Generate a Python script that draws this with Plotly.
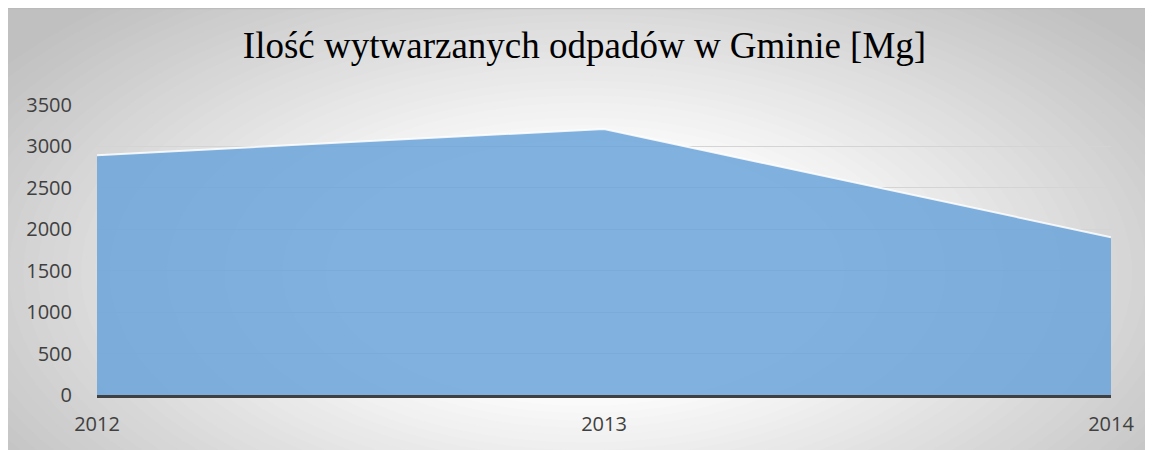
import plotly.graph_objects as go

# ---- data ----
years = [2012, 2013, 2014]
year_labels = ["2012", "2013", "2014"]
waste_mg = [2895, 3210, 1905]
y_ticks = [0, 500, 1000, 1500, 2000, 2500, 3000, 3500]
title_text = "Ilość wytwarzanych odpadów w Gminie [Mg]"

# ---- layout geometry (figure pixels) ----
W, H = 1153, 450
L, R = 89, 1103          # plot area left/right
T, B = 97, 387.5         # plot area top/bottom


def px_x(p):
    return (p - L) / (R - L)


def px_y(p):
    return (B - p) / (B - T)


fig = go.Figure()

fig.add_trace(go.Scatter(
    x=years, y=waste_mg,
    mode="lines",
    fill="tozeroy",
    fillcolor="rgba(108,164,218,0.86)",
    line=dict(color="rgba(255,255,255,0.85)", width=2),
    hoverinfo="skip",
    showlegend=False,
))

shapes = []
# radial gradient made of concentric ellipses
cx, cy = 577, 265
rx, ry = 720, 370
n = 50
for i in range(n):
    f = 1 - i / n
    t = max(0.0, (f - 0.3) / 0.7)
    v = int(round(255 - (255 - 192) * t))
    shapes.append(dict(type="circle", xref="paper", yref="paper",
                       x0=px_x(cx - rx * f), x1=px_x(cx + rx * f),
                       y0=px_y(cy + ry * f), y1=px_y(cy - ry * f),
                       fillcolor=f"rgb({v},{v},{v})", line=dict(width=0),
                       layer="below"))
# frame top edge
shapes.append(dict(type="line", xref="paper", yref="paper",
                   x0=px_x(0), x1=px_x(W), y0=px_y(0.5), y1=px_y(0.5),
                   line=dict(color="rgb(185,185,185)", width=1), layer="below"))

fig.update_layout(
    width=W, height=H,
    margin=dict(l=L, r=W - R, t=T, b=H - B, pad=0),
    paper_bgcolor="rgb(192,192,192)",
    plot_bgcolor="rgba(0,0,0,0)",
    shapes=shapes,
    title=dict(text=title_text, x=0.5, xanchor="center", xref="container",
               y=1 - 37 / H, yanchor="middle", yref="container",
               font=dict(family="Liberation Serif", size=37, color="black")),
    xaxis=dict(range=[years[0], years[-1]], tickvals=years, ticktext=year_labels,
               showgrid=False, zeroline=False, showline=True,
               linecolor="#404040", linewidth=3, ticks="",
               ticklabelstandoff=9, layer="above traces",
               tickfont=dict(family="Open Sans", size=20, color="#404040")),
    yaxis=dict(range=[0, 3500], tickvals=y_ticks, showgrid=True,
               gridcolor="rgb(212,212,212)", gridwidth=1, zeroline=False,
               showline=False, ticks="", ticklabelstandoff=24,
               tickfont=dict(family="Open Sans", size=20, color="#404040")),
)

fig.write_html("out.html")
